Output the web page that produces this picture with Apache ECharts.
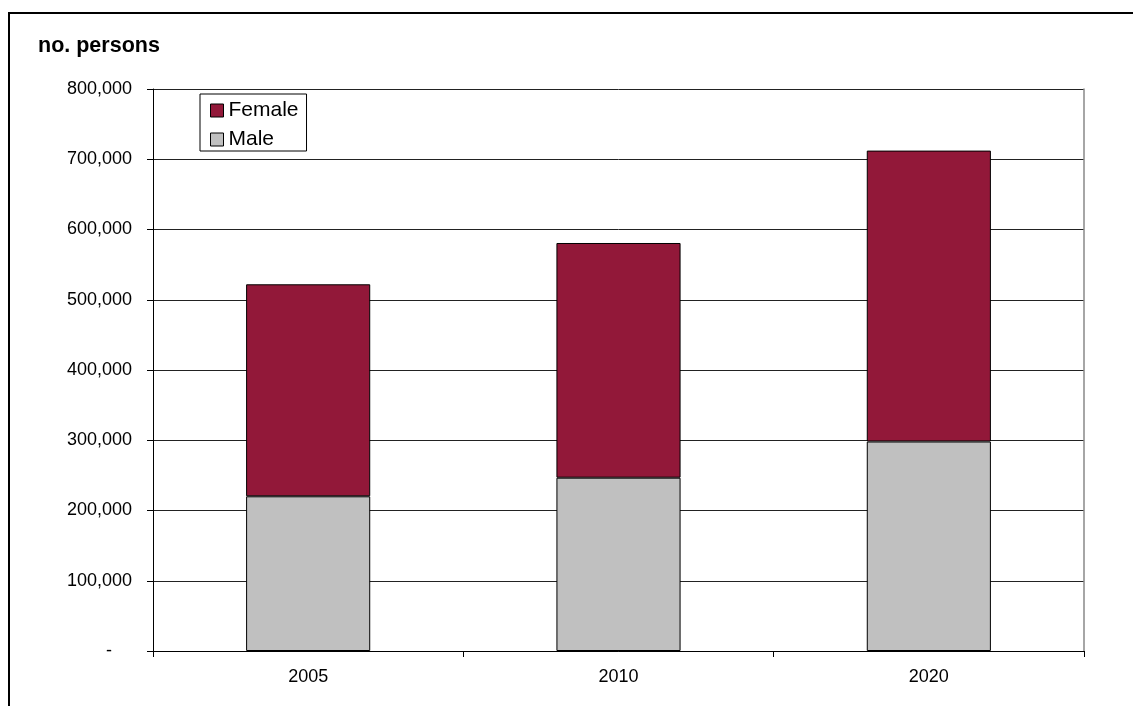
<!DOCTYPE html>
<html>
<head>
<meta charset="utf-8">
<title>no. persons</title>
<script src="https://cdn.jsdelivr.net/npm/echarts@6/dist/echarts.min.js"></script>
<style>
  html, body { margin: 0; padding: 0; background: #fff; }
  #chart { width: 1133px; height: 706px; }
</style>
</head>
<body>
<div id="chart"></div>
<script>
// Persons by sex, stacked per year
const years = ['2005', '2010', '2020'];
const male = [220200, 246700, 298200];
const female = [301800, 334100, 414100];
const yTicks = { min: 0, max: 800000, interval: 100000 };

const FONT = '"Liberation Sans", Arial, sans-serif';

function fmtThousands(v) {
  if (v === 0) return '{dash|-}';
  return String(v).replace(/\B(?=(\d{3})+(?!\d))/g, ',');
}

const chart = echarts.init(document.getElementById('chart'), null, { renderer: 'canvas' });

chart.setOption({
  animation: false,
  backgroundColor: '#fff',
  textStyle: { fontFamily: FONT },
  title: {
    text: 'no. persons',
    left: 38,
    top: 35,
    padding: 0,
    textStyle: { fontFamily: FONT, fontWeight: 'bold', fontSize: 21.5, color: '#000' }
  },
  legend: {
    orient: 'vertical',
    left: 200,
    top: 94,
    padding: [6, 8, 1, 10],
    itemGap: 8,
    itemWidth: 13,
    itemHeight: 13,
    icon: 'rect',
    borderColor: '#000',
    borderWidth: 1,
    backgroundColor: '#fff',
    data: ['Female', 'Male'],
    textStyle: { fontFamily: FONT, fontSize: 21, color: '#000', lineHeight: 21 },
    itemStyle: { borderColor: '#000', borderWidth: 1 }
  },
  grid: { left: 153, right: 49, top: 89, bottom: 55, containLabel: false },
  xAxis: {
    type: 'category',
    data: years,
    axisLine: { lineStyle: { color: '#000', width: 1 } },
    axisTick: { show: true, alignWithLabel: false, length: 6, lineStyle: { color: '#000' } },
    axisLabel: { fontFamily: FONT, fontSize: 18, color: '#000', margin: 17 },
    splitLine: { show: false }
  },
  yAxis: [
    {
      type: 'value',
      min: yTicks.min,
      max: yTicks.max,
      interval: yTicks.interval,
      axisLine: { show: true, lineStyle: { color: '#000', width: 1 } },
      axisTick: { show: true, length: 6, lineStyle: { color: '#000' } },
      axisLabel: {
        fontFamily: FONT, fontSize: 18, color: '#000', margin: 21,
        formatter: fmtThousands,
        rich: { dash: { fontFamily: FONT, fontSize: 18, color: '#000', padding: [0, 20, 0, 0] } }
      },
      splitLine: { show: true, lineStyle: { color: '#222', width: 1 } }
    },
    {
      // right-hand frame of the plot area
      type: 'value',
      position: 'right',
      min: yTicks.min,
      max: yTicks.max,
      interval: yTicks.interval,
      axisLine: { show: true, lineStyle: { color: '#888', width: 1.5 } },
      axisTick: { show: false },
      axisLabel: { show: false },
      splitLine: { show: false }
    }
  ],
  series: [
    {
      name: 'Male',
      type: 'bar',
      stack: 'persons',
      barWidth: '40%',
      data: male,
      itemStyle: { color: '#C0C0C0', borderColor: '#000', borderWidth: 1 }
    },
    {
      name: 'Female',
      type: 'bar',
      stack: 'persons',
      barWidth: '40%',
      data: female,
      itemStyle: { color: '#921839', borderColor: '#000', borderWidth: 1 }
    }
  ],
  graphic: [
    { type: 'line', shape: { x1: 9, y1: 13, x2: 1133, y2: 13 }, style: { stroke: '#000', lineWidth: 2 } },
    { type: 'line', shape: { x1: 9, y1: 12, x2: 9, y2: 706 }, style: { stroke: '#000', lineWidth: 2 } }
  ]
});
</script>
</body>
</html>
